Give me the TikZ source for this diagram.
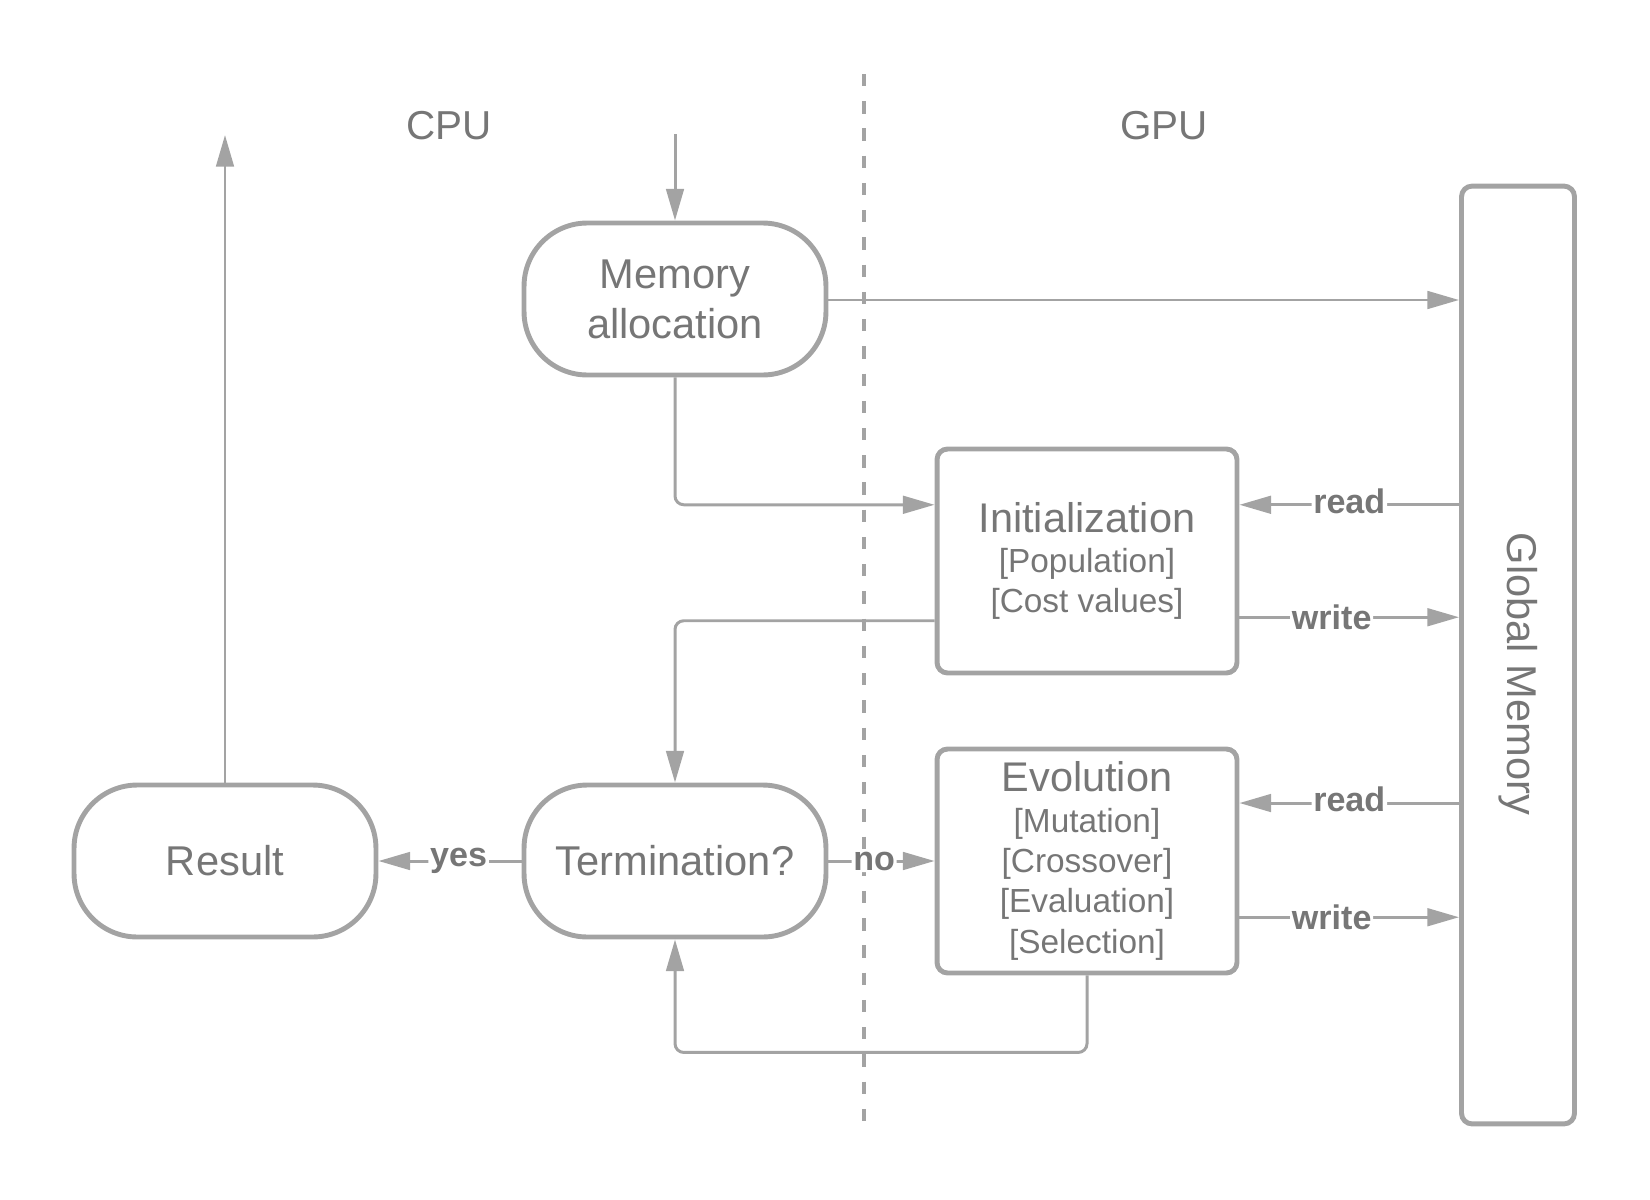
\documentclass[tikz,border=0pt]{standalone}
\usepackage{fontspec}
\setmainfont{Liberation Sans}
\usetikzlibrary{arrows.meta}
\definecolor{linegray}{HTML}{A3A3A3}
\definecolor{textgray}{HTML}{767676}

\begin{document}
\begin{tikzpicture}[x=0.02cm, y=-0.02cm,
        every node/.style={text=textgray},
        terminal/.style={draw=linegray, line width=2.8pt, rounded corners=36pt,
            minimum width=6.04cm, minimum height=3.04cm, align=center,
            font=\fontsize{23.7}{28.5}\selectfont},
        kernel/.style={draw=linegray, line width=2.8pt, rounded corners=6pt,
            minimum width=6cm, minimum height=4.48cm, align=center,
            font=\fontsize{19}{23}\selectfont},
        memory/.style={draw=linegray, line width=2.8pt, rounded corners=6pt,
            minimum width=2.26cm, minimum height=18.76cm,
            font=\fontsize{23.7}{27}\selectfont},
        conn/.style={draw=linegray, line width=1.7pt, rounded corners=5pt,
            -{Triangle[length=18pt,width=10pt]}},
        lbl/.style={fill=white, inner sep=1pt, font=\bfseries\fontsize{19.4}{21}\selectfont},
        title/.style={font=\fontsize{23}{27}\selectfont}]
    \useasboundingbox (0,0) rectangle (1650,1200);
    % CPU / GPU border
    \draw[linegray, line width=1.8pt, dash pattern=on 7pt off 8.5pt] (864,74) -- (864,1124);
    \node[title] (cpu) at (449,126) {CPU};
    \node[title] (gpu) at (1164,126) {GPU};
    % host side
    \node[terminal] (mem) at (675,299) {Memory\\allocation};
    \node[terminal] (term) at (675,861) {Termination?};
    \node[terminal] (res) at (225,861) {Result};
    % device side
    \node[kernel] (init) at (1087,561)
        {{\fontsize{23.6}{25}\selectfont Initialization}\\{[Population]}\\{[Cost values]}};
    \node[kernel] (evo) at (1087,861)
        {{\fontsize{23.6}{25}\selectfont Evolution}\\{[Mutation]}\\{[Crossover]}\\{[Evaluation]}\\{[Selection]}};
    \node[memory] (gm) at (1518,655) {\rotatebox{-90}{\hspace{21.5pt}Global Memory}};
    % connectors
    \coordinate (start) at (675,134);
    \coordinate (finish) at (225,135);
    \coordinate (initin) at ([yshift=32pt]init.west);
    \coordinate (initout) at ([yshift=-34pt]init.west);
    \coordinate (initrd) at ([yshift=32pt]init.east);
    \coordinate (initwr) at ([yshift=-32pt]init.east);
    \coordinate (evord) at ([yshift=33pt]evo.east);
    \coordinate (evowr) at ([yshift=-32pt]evo.east);
    \draw[conn] (start) -- (mem.north);
    \draw[conn] (res.north) -- (finish);
    \draw[conn] (mem.east |- 0,300) -- (gm.west |- 0,300);
    \draw[conn] (mem.south) |- (initin);
    \draw[conn] (initout) -| (term.north);
    \draw[conn] (term.west) -- node[lbl, pos=0.44]{yes} (res.east);
    \draw[conn] (term.east) -- node[lbl, pos=0.43]{no} (evo.west);
    \draw[conn] (evo.south) -- ++(0,77) -| (term.south);
    \draw[conn] (initrd -| gm.west) -- node[lbl, yshift=2pt]{read} (initrd);
    \draw[conn] (initwr) -- node[lbl, pos=0.42]{write} (initwr -| gm.west);
    \draw[conn] (evord -| gm.west) -- node[lbl, yshift=2pt]{read} (evord);
    \draw[conn] (evowr) -- node[lbl, pos=0.42]{write} (evowr -| gm.west);
\end{tikzpicture}
\end{document}
